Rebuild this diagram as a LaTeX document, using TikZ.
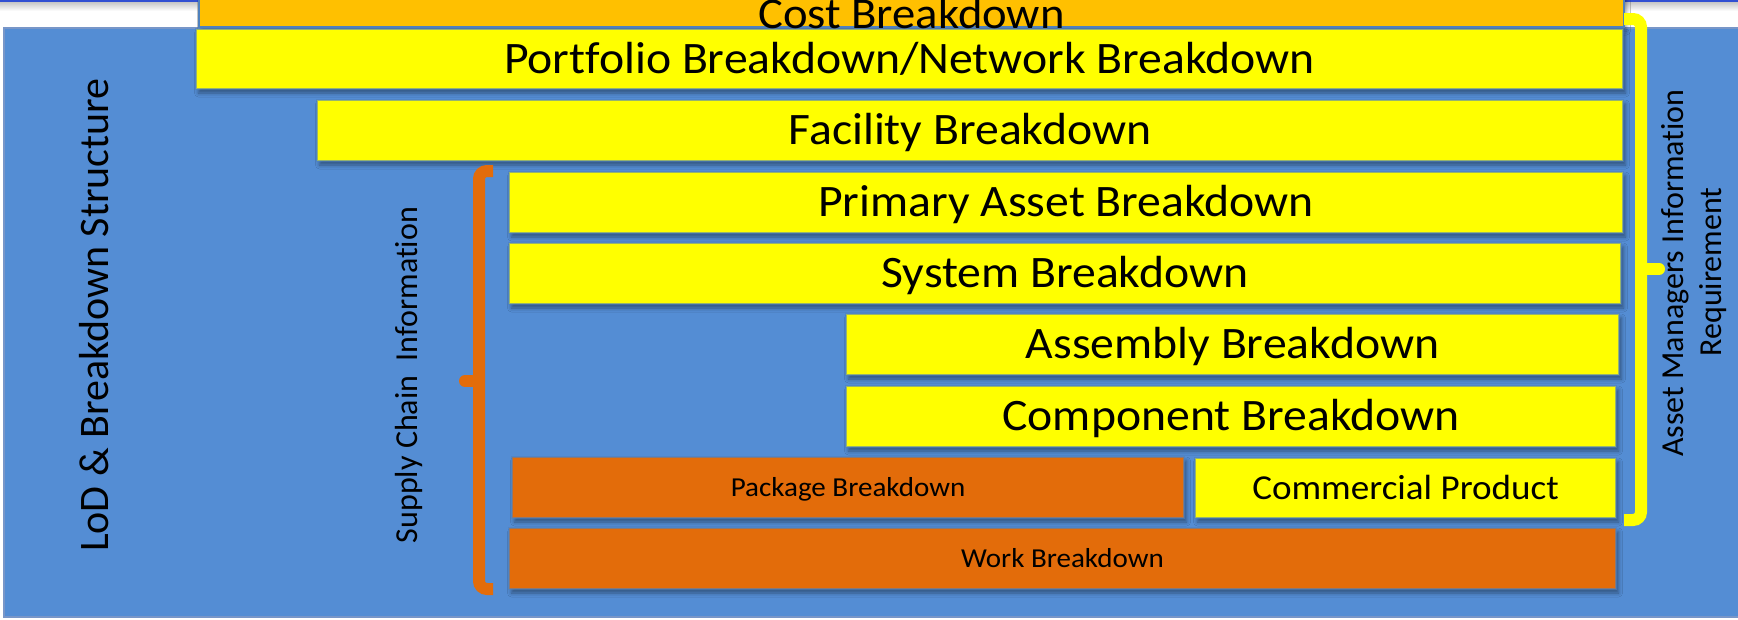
\documentclass[tikz,border=0pt]{standalone}
\usepackage{fontspec}
\setmainfont{Carlito}[Ligatures=NoCommon]
\newfontfamily\hfont{Carlito}[FakeStretch=1.06,Ligatures=NoCommon]
\usetikzlibrary{shadows.blur}
\definecolor{bgblue}{RGB}{84,141,212}
\definecolor{bgedge}{RGB}{120,150,200}
\definecolor{ylw}{RGB}{255,255,0}
\definecolor{costorg}{RGB}{255,192,0}
\definecolor{orgbox}{RGB}{227,108,10}
\definecolor{boxedge}{RGB}{79,129,189}
\definecolor{topline}{RGB}{50,80,210}
\begin{document}
\begin{tikzpicture}[x=1pt,y=-1pt,
  box/.style={draw=boxedge, draw opacity=0.6, line width=1.2pt, inner sep=0pt, outer sep=0pt,
    blur shadow={shadow xshift=2.5pt, shadow yshift=-4pt, shadow blur radius=4pt, shadow opacity=40}},
  ybox/.style={box, fill=ylw},
  obox/.style={box, fill=orgbox},
  cbox/.style={box, draw=boxedge, draw opacity=1, fill=costorg},
  bigtxt/.style={font=\hfont\fontsize{45}{54}\selectfont, text height=28.4pt, text depth=0pt},
  midtxt/.style={font=\hfont\fontsize{35}{42}\selectfont, text height=22.1pt, text depth=0pt},
  smltxt/.style={font=\hfont\fontsize{27.4}{33}\selectfont, text height=17.3pt, text depth=0pt},
  sidetxt/.style={rotate=90, inner sep=0pt, font=\fontsize{32}{38}\selectfont, text height=20.2pt, text depth=0pt},
  bracket/.style={line width=12pt, rounded corners=8pt},
  nub/.style={line width=12pt, line cap=round}
]
\useasboundingbox (0,0) rectangle (1738,619);
\clip (0,0) rectangle (1738,619);
\fill[white] (0,0) rectangle (1738,619);
\shade[top color=black!22, bottom color=white] (0,2) rectangle (1738,11);
\draw[topline, line width=2.5pt] (0,1) -- (1738,1);
% background panel
\filldraw[fill=bgblue, draw=bgedge, line width=1.5pt] (4,28) rectangle (1750,617);

% cost box (cut at the top)
\node[cbox, minimum width=1425pt, minimum height=47pt] (cost) at (911.5,3.5) {};

% yellow / orange boxes
\node[ybox, bigtxt, minimum width=1427pt, minimum height=60pt] (portfolio) at (909.5,59) {Portfolio Breakdown/Network Breakdown};
\node[ybox, bigtxt, minimum width=1306pt, minimum height=61pt] (facility) at (970,130.5) {Facility Breakdown};
\node[ybox, bigtxt, minimum width=1114pt, minimum height=61pt] (primary) at (1066,202.5) {Primary Asset Breakdown};
\node[ybox, bigtxt, minimum width=1112pt, minimum height=61pt] (system) at (1065,273.5) {System Breakdown};
\node[ybox, bigtxt, minimum width=773pt, minimum height=61pt] (assembly) at (1232.5,344.5) {Assembly Breakdown};
\node[ybox, bigtxt, minimum width=770pt, minimum height=61pt] (component) at (1231,416.5) {Component Breakdown};
\node[obox, smltxt, minimum width=672pt, minimum height=61pt] (package) at (848,487.5) {Package Breakdown};
\node[ybox, midtxt, minimum width=421pt, minimum height=60pt] (commercial) at (1405.5,488) {Commercial Product};
\node[obox, smltxt, minimum width=1107pt, minimum height=61pt] (work) at (1062.5,558.5) {Work Breakdown};

% cost label
\node[font=\hfont\fontsize{44}{52}\selectfont, anchor=base, inner sep=0pt] (costlbl) at (911.5,28) {Cost Breakdown};

% left (orange) bracket
\coordinate (lbtop) at (493,171);
\coordinate (lbbot) at (493,589);
\coordinate (lbtip) at (465,381);
\draw[orgbox, bracket] (lbtop) -- (479,171) -- (479,589) -- (lbbot);
\draw[orgbox, nub] (479,381) -- (lbtip);

% right (yellow) bracket
\coordinate (rbtop) at (1624,19);
\coordinate (rbbot) at (1624,520);
\coordinate (rbtip) at (1659,269);
\draw[ylw, bracket] (rbtop) -- (1641,19) -- (1641,520) -- (rbbot);
\draw[ylw, nub] (1641,269) -- (rbtip);

% side labels
\node[rotate=90, inner sep=0pt, font=\fontsize{42}{50}\selectfont, text height=26.5pt, text depth=0pt] (lod) at (95,315) {LoD \& Breakdown Structure};
\node[sidetxt] (supply) at (407.5,375) {Supply Chain\ \ Information};
\node[sidetxt] (asset1) at (1673,273) {Asset Managers Information};
\node[sidetxt] (asset2) at (1711,272) {Requirement};
\end{tikzpicture}
\end{document}
